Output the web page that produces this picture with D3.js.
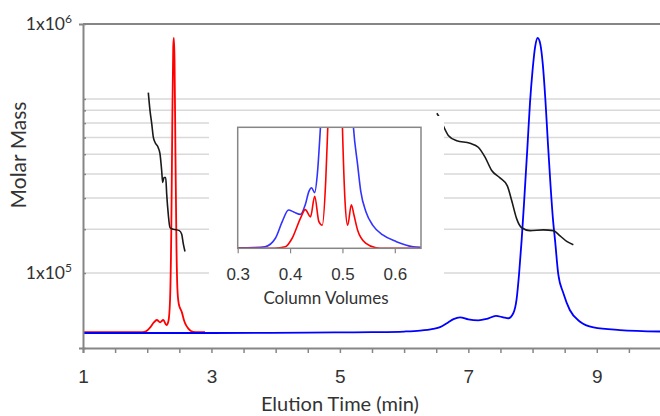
<!DOCTYPE html>
<html>
<head>
<meta charset="utf-8">
<script src="https://cdn.jsdelivr.net/npm/d3@7"></script>
<style>
  body { margin: 0; background: #fff; }
  svg { display: block; font-family: Lato, "Open Sans", sans-serif; }
  .axis path, .axis line { stroke: #868686; }
  .axis text { fill: #333; }
</style>
</head>
<body>
<svg id="chart" width="660" height="416"></svg>
<script>
// ---- data ----
const elutionLabels = [1, 3, 5, 7, 9];
const massTicks = [5e4, 1e5, 1.5e5, 2e5, 2.5e5, 3e5, 3.5e5, 4e5, 4.5e5, 5e5, 1e6];
const massGrid = [1e5, 1.5e5, 2e5, 2.5e5, 3e5, 3.5e5, 4e5, 4.5e5, 5e5];
const massLabels = [1e6, 1e5];
const cvTicks = [0.3, 0.4, 0.5, 0.6];

// detector signal, main chart (relative units)
const blueTime = [1.0, 3.0, 4.5, 5.0, 5.5, 6.0, 6.25, 6.45, 6.56, 6.68, 6.77, 6.87, 7.0, 7.155, 7.29, 7.43, 7.545, 7.62, 7.70, 7.75, 7.79, 7.83, 7.87, 7.92, 7.96, 8.00, 8.04, 8.08, 8.12, 8.16, 8.20, 8.24, 8.28, 8.32, 8.35, 8.40, 8.48, 8.58, 8.74, 8.95, 9.36, 10.0];
const blueSignal = [0, 0, 0.001, 0.002, 0.003, 0.005, 0.008, 0.014, 0.02, 0.035, 0.047, 0.053, 0.046, 0.043, 0.048, 0.058, 0.053, 0.05, 0.067, 0.112, 0.20, 0.315, 0.45, 0.63, 0.78, 0.89, 0.97, 1.0, 0.98, 0.91, 0.79, 0.64, 0.5, 0.38, 0.315, 0.20, 0.135, 0.078, 0.038, 0.019, 0.010, 0.005];

const redTime = [1.0, 1.9, 1.97, 2.05, 2.10, 2.15, 2.20, 2.25, 2.30, 2.33, 2.355, 2.375, 2.39, 2.405, 2.415, 2.425, 2.44, 2.455, 2.47, 2.49, 2.52, 2.54, 2.57, 2.60, 2.64, 2.68, 2.75, 2.9];
const redSignal = [0.003, 0.003, 0.005, 0.02, 0.035, 0.044, 0.036, 0.044, 0.027, 0.04, 0.11, 0.35, 0.7, 0.97, 1.0, 0.93, 0.6, 0.3, 0.15, 0.1, 0.08, 0.07, 0.045, 0.028, 0.015, 0.007, 0.003, 0.003];

// molar mass traces
const massLeftTime = [2.017, 2.043, 2.070, 2.095, 2.121, 2.173, 2.199, 2.225, 2.241, 2.261, 2.288, 2.303, 2.328, 2.355, 2.406, 2.500, 2.537, 2.562, 2.588];
const massLeft = [530000, 450000, 398000, 351000, 335000, 318000, 301000, 258000, 231000, 242000, 242000, 208000, 172000, 152000, 150000, 148000, 143000, 131000, 122000];
const massRightTime = [6.51, 6.575, 6.621, 6.688, 6.819, 7.026, 7.155, 7.260, 7.364, 7.493, 7.607, 7.676, 7.753, 7.831, 7.960, 8.168, 8.323, 8.428, 8.532, 8.635];
const massRight = [438000, 410000, 385000, 357000, 340000, 332000, 320000, 292000, 258000, 241000, 224000, 195000, 165000, 152000, 148000, 149000, 148000, 141000, 134000, 130000];

// inset, column volumes
const insetBlueCV = [0.30, 0.33, 0.352, 0.372, 0.385, 0.397, 0.407, 0.42, 0.429, 0.436, 0.441, 0.447, 0.452, 0.458, 0.47, 0.51, 0.521, 0.529, 0.535, 0.545, 0.558, 0.577, 0.603, 0.635, 0.65];
const insetBlue = [0.004, 0.006, 0.013, 0.083, 0.22, 0.317, 0.30, 0.28, 0.36, 0.47, 0.50, 0.46, 0.61, 1.0, 2.0, 2.0, 1.0, 0.69, 0.47, 0.30, 0.19, 0.11, 0.055, 0.013, 0.008];
const insetRedCV = [0.30, 0.37, 0.391, 0.404, 0.42, 0.429, 0.439, 0.447, 0.455, 0.4615, 0.468, 0.472, 0.48, 0.495, 0.50, 0.505, 0.51, 0.517, 0.522, 0.529, 0.545, 0.564, 0.58, 0.65];
const insetRed = [0, 0.001, 0.013, 0.083, 0.25, 0.32, 0.26, 0.43, 0.22, 0.19, 0.55, 1.0, 2.0, 2.0, 1.0, 0.385, 0.19, 0.36, 0.275, 0.15, 0.04, 0.005, 0, 0];

// ---- layout ----
const svg = d3.select("#chart");
const plotL = 83, plotR = 661, plotT = 24, plotB = 348;
const baseY = 333, peakY = 38;

const x = d3.scaleLinear().domain([1, 10]).range([plotL, plotR]);
const y = d3.scaleLog().domain([5e4, 1e6]).range([plotB, plotT]);
const sig = d3.scaleLinear().domain([0, 1]).range([baseY, peakY]);

// gridlines
svg.append("g")
    .selectAll("line")
    .data(massGrid)
    .join("line")
    .attr("x1", plotL).attr("x2", plotR)
    .attr("y1", d => y(d)).attr("y2", d => y(d))
    .attr("stroke", "#d9d9d9")
    .attr("stroke-width", 1.5);

// top border
svg.append("line")
    .attr("x1", plotL).attr("x2", plotR)
    .attr("y1", plotT).attr("y2", plotT)
    .attr("stroke", "#868686").attr("stroke-width", 2);

// main curves
const sigLine = d3.line().x(d => x(d[0])).y(d => sig(d[1])).curve(d3.curveMonotoneX);
const massLine = d3.line().x(d => x(d[0])).y(d => y(d[1])).curve(d3.curveMonotoneX);

svg.append("path")
    .attr("d", sigLine(d3.zip(redTime, redSignal)))
    .attr("fill", "none").attr("stroke", "#ff0000").attr("stroke-width", 1.8);
svg.append("path")
    .attr("d", sigLine(d3.zip(blueTime, blueSignal)))
    .attr("fill", "none").attr("stroke", "#0000ff").attr("stroke-width", 1.8);

[[massLeftTime, massLeft], [massRightTime, massRight]].forEach(([t, m]) => {
    svg.append("path")
        .attr("d", massLine(d3.zip(t, m)))
        .attr("fill", "none").attr("stroke", "#1a1a1a").attr("stroke-width", 1.6);
});

// axes
const xAxis = svg.append("g")
    .attr("class", "axis")
    .attr("transform", `translate(0,${plotB})`)
    .call(d3.axisBottom(x)
        .tickValues(d3.range(1, 10.01, 0.5))
        .tickSize(5)
        .tickFormat(d => elutionLabels.includes(d) ? d : ""));
xAxis.select(".domain").attr("stroke-width", 2);
xAxis.selectAll("line").attr("stroke-width", 1.5);
xAxis.selectAll("text")
    .attr("font-size", 19)
    .attr("dy", null)
    .attr("y", 35);

const yAxis = svg.append("g")
    .attr("class", "axis")
    .attr("transform", `translate(${plotL},0)`)
    .call(d3.axisLeft(y).tickValues(massTicks).tickSize(4).tickFormat(""));
yAxis.select(".domain").attr("stroke-width", 2);
yAxis.selectAll("line").attr("stroke-width", 1.5).attr("x2", 3);

// y labels 1x10^n
const yLab = svg.append("g")
    .selectAll("text")
    .data(massLabels)
    .join("text")
    .attr("x", 72)
    .attr("y", d => y(d) + 6)
    .attr("text-anchor", "end")
    .attr("font-size", 17.5)
    .attr("fill", "#333");
yLab.append("tspan").text("1x10");
yLab.append("tspan")
    .attr("font-size", 12)
    .attr("dy", -7)
    .text(d => Math.round(Math.log10(d)));

// axis titles
svg.append("text")
    .attr("x", x(5)).attr("y", 411)
    .attr("text-anchor", "middle")
    .attr("font-size", 20)
    .attr("fill", "#333")
    .text("Elution Time (min)");
svg.append("text")
    .attr("transform", "translate(26,155) rotate(-90)")
    .attr("text-anchor", "middle")
    .attr("font-size", 21)
    .attr("fill", "#333")
    .text("Molar Mass");

// ---- inset ----
const iL = 237.7, iR = 421, iT = 127.3, iB = 248.3;
const ix = d3.scaleLinear().domain([0.3, 0.65]).range([iL, iR]);
const iy = d3.scaleLinear().domain([0, 1]).range([iB, iT]);

svg.append("rect")
    .attr("x", 209).attr("y", 116)
    .attr("width", 444 - 209).attr("height", 310 - 116)
    .attr("fill", "#fff");

svg.append("clipPath").attr("id", "insetClip")
    .append("rect")
    .attr("x", iL).attr("y", iT)
    .attr("width", iR - iL).attr("height", iB - iT);

const insetLine = d3.line().x(d => ix(d[0])).y(d => iy(d[1])).curve(d3.curveMonotoneX);
const inset = svg.append("g").attr("clip-path", "url(#insetClip)");
inset.append("path")
    .attr("d", insetLine(d3.zip(insetBlueCV, insetBlue)))
    .attr("fill", "none").attr("stroke", "#3333ff").attr("stroke-width", 1.6);
inset.append("path")
    .attr("d", insetLine(d3.zip(insetRedCV, insetRed)))
    .attr("fill", "none").attr("stroke", "#ff0000").attr("stroke-width", 1.6);

svg.append("rect")
    .attr("x", iL).attr("y", iT)
    .attr("width", iR - iL).attr("height", iB - iT)
    .attr("fill", "none")
    .attr("stroke", "#868686").attr("stroke-width", 1.5);

const ixAxis = svg.append("g")
    .attr("class", "axis")
    .attr("transform", `translate(0,${iB})`)
    .call(d3.axisBottom(ix).tickValues(cvTicks).tickSize(5).tickFormat(d3.format(".1f")));
ixAxis.select(".domain").remove();
ixAxis.selectAll("line").attr("stroke-width", 1.2);
ixAxis.selectAll("text")
    .attr("font-size", 17)
    .attr("dy", null)
    .attr("y", 32);

svg.append("text")
    .attr("x", 326).attr("y", 304)
    .attr("text-anchor", "middle")
    .attr("font-size", 17)
    .attr("fill", "#333")
    .text("Column Volumes");
</script>
</body>
</html>
